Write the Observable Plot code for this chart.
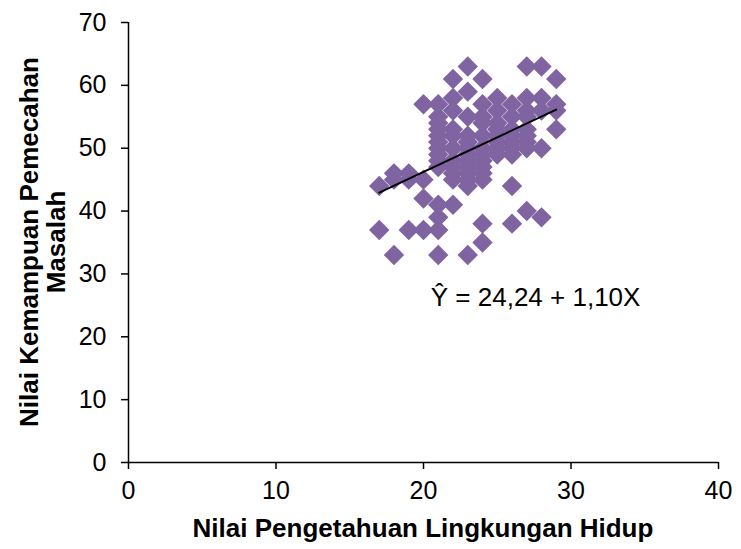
<!DOCTYPE html>
<html><head><meta charset="utf-8">
<script src="https://cdn.jsdelivr.net/npm/d3@7"></script>
<script src="https://cdn.jsdelivr.net/npm/@observablehq/plot@0.6"></script>
<style>body{margin:0;background:#fff;}</style>
</head><body><div id="chart"></div>
<script>
// Nilai Pengetahuan Lingkungan Hidup (X)
const pengetahuan = [
  17,17,
  18,18,18,
  19,19,19,
  20,20,20,20,
  21,21,21,21,21,21,21,21,21,21,21,21,21,21,
  22,22,22,22,22,22,22,22,22,22,22,
  23,23,23,23,23,23,23,23,23,23,23,23,23,
  24,24,24,24,24,24,24,24,24,24,24,24,24,
  25,25,25,25,25,25,25,25,
  26,26,26,26,26,26,26,26,26,
  27,27,27,27,27,27,27,27,27,
  28,28,28,28,28,
  29,29,29,29
];
// Nilai Kemampuan Pemecahan Masalah (Y)
const kemampuan = [
  44,37,
  46,45,33,
  46,45,37,
  57,45,42,37,
  57,55,54,53,52,51,50,49,48,47,41,39,37,33,
  61,58,56,53,52,50,48,47,46,45,41,
  63,59,55,52,51,50,49,48,47,46,45,44,33,
  61,57,55,54,52,50,49,48,47,46,45,38,35,
  58,56,54,53,52,51,50,49,
  57,55,53,52,51,50,49,44,38,
  63,58,56,55,53,52,51,50,40,
  63,58,56,50,39,
  61,57,56,53
];
const intercept = 24.24;
const slope = 1.10;
const fitRange = [17, 29];
const xTicks = [0, 10, 20, 30, 40];
const yTicks = [0, 10, 20, 30, 40, 50, 60, 70];
const xTitle = "Nilai Pengetahuan Lingkungan Hidup";
const yTitleLines = ["Nilai Kemampuan Pemecahan", "Masalah"];
const equationLabel = "Ŷ = 24,24 + 1,10X";
const equationAt = {x: 27.6, y: 26.2};

const points = pengetahuan.map((x, i) => ({x, y: kemampuan[i]}));
const fit = fitRange.map(x => ({x, y: intercept + slope * x}));

const W = 741, H = 549, mL = 128, mR = 23, mT = 22, mB = 87;
const font = "'Liberation Sans', Arial, sans-serif";

const chart = Plot.plot({
  width: W, height: H,
  marginLeft: mL, marginRight: mR, marginTop: mT, marginBottom: mB,
  style: {fontFamily: font, fontSize: "25px", color: "black", background: "white", overflow: "visible"},
  x: {domain: [0, 40], label: null},
  y: {domain: [0, 70], label: null},
  marks: [
    Plot.dot(points, {x: "x", y: "y", symbol: "diamond2", r: 9.2, fill: "#8064A2", stroke: "none"}),
    Plot.line(fit, {x: "x", y: "y", stroke: "black", strokeWidth: 2}),
    Plot.ruleX([0], {stroke: "black", strokeWidth: 1.5}),
    Plot.ruleY([0], {stroke: "black", strokeWidth: 1.5}),
    Plot.axisX({ticks: xTicks, tickSize: 7, tickPadding: 12, label: null, stroke: "black", strokeWidth: 1.5}),
    Plot.axisY({ticks: yTicks, tickSize: 7, tickPadding: 15, label: null, stroke: "black", strokeWidth: 1.5}),
    Plot.text([equationLabel], {x: () => equationAt.x, y: () => equationAt.y, text: d => d, fontSize: 26, fill: "black"})
  ]
});

const svg = d3.select(chart);
const cx = mL + (W - mL - mR) / 2;
const cy = mT + (H - mT - mB) / 2;
svg.append("text")
  .attr("x", cx).attr("y", 537)
  .attr("text-anchor", "middle")
  .attr("font-family", font).attr("font-weight", "bold").attr("font-size", 26)
  .attr("fill", "black")
  .text(xTitle);
const yOffsets = [29, 56];
yTitleLines.forEach((line, i) => {
  svg.append("text")
    .attr("transform", `translate(${yOffsets[i]},${cy}) rotate(-90)`)
    .attr("text-anchor", "middle").attr("dy", "0.35em")
    .attr("font-family", font).attr("font-weight", "bold").attr("font-size", 26)
    .attr("fill", "black")
    .text(line);
});
document.getElementById("chart").appendChild(chart);
</script>
</body></html>
